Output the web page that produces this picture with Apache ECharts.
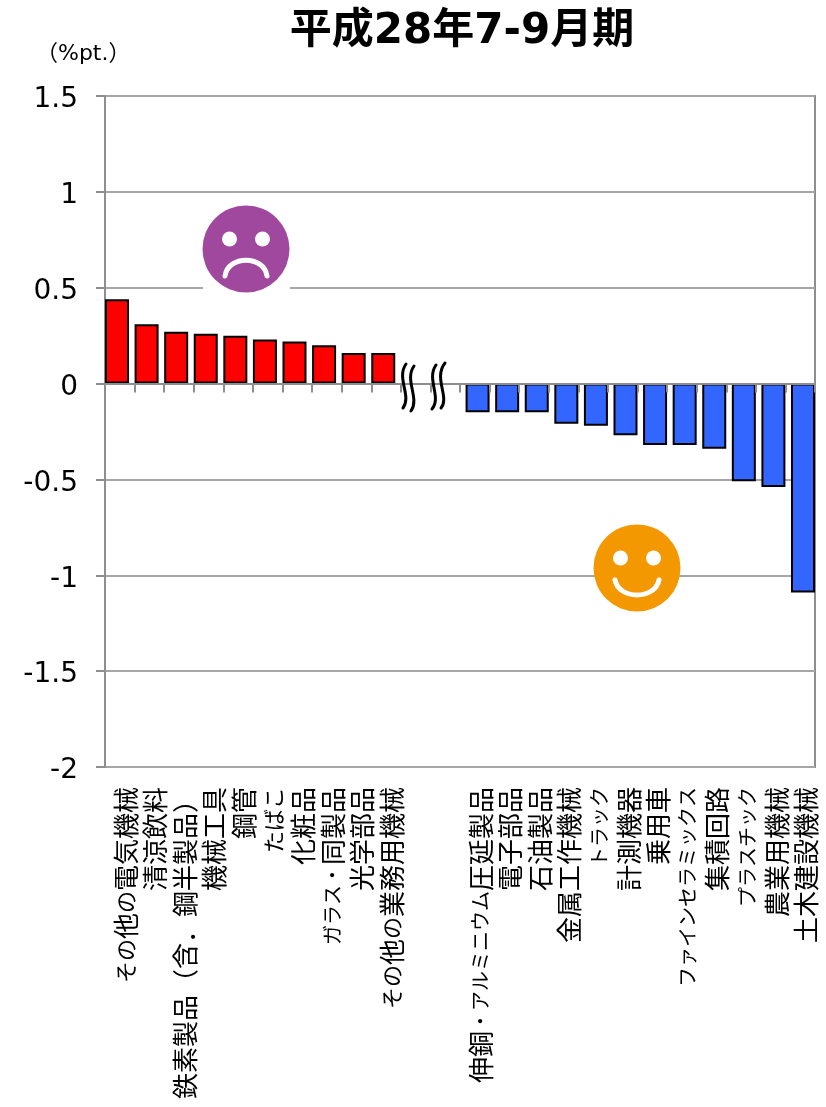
<!DOCTYPE html>
<html>
<head>
<meta charset="utf-8">
<style>html,body{margin:0;padding:0;background:#fff}#chart{width:826px;height:1107px}</style>
<script src="https://cdn.jsdelivr.net/npm/echarts@6/dist/echarts.min.js"></script>
</head>
<body>
<div id="chart"></div>
<script>
// 業種別の寄与度（%pt.）: 上昇業種と低下業種を波線で区切って並べる
const categories = [
  'その他の電気機械','清涼飲料','鉄素製品（含．鋼半製品）','機械工具','鋼管','たばこ','化粧品',
  'ガラス・同製品','光学部品','その他の業務用機械','','',
  '伸銅・アルミニウム圧延製品','電子部品','石油製品','金属工作機械','トラック','計測機器','乗用車',
  'ファインセラミックス','集積回路','プラスチック','農業用機械','土木建設機械'
];
const risingValues = [0.44,0.31,0.27,0.26,0.25,0.23,0.22,0.20,0.16,0.16,null,null,
  null,null,null,null,null,null,null,null,null,null,null,null];
const fallingValues = [null,null,null,null,null,null,null,null,null,null,null,null,
  -0.15,-0.15,-0.15,-0.21,-0.22,-0.27,-0.32,-0.32,-0.34,-0.51,-0.54,-1.09];

const GREY = '#8e8e8e';
const JP = '"Noto Sans CJK JP","DejaVu Sans",sans-serif';
const LATIN = '"DejaVu Sans","Noto Sans CJK JP",sans-serif';

// 漢字・ひらがな・カタカナで文字の大きさを変えて組む
function labelRuns(label) {
  const runs = label.match(/[\u3040-\u309f]+|[\u30a0-\u30ff]+|[^\u3040-\u30ff]+/g) || [];
  return runs.map((run) => {
    const code = run.charCodeAt(0);
    const style = code >= 0x3040 && code <= 0x309f ? 'h' : (code >= 0x30a0 && code <= 0x30ff ? 'k' : 'c');
    return '{' + style + '|' + run + '}';
  }).join('');
}

// 顔アイコン: 円・両目・口
function face(cx, cy, color, mouth) {
  const eye = (x) => ({type:'circle', shape:{cx:x, cy:cy-10, r:7.5}, style:{fill:'#fff'}, z:20});
  return [
    {type:'circle', shape:{cx, cy, r:43.5}, style:{fill:color}, z:20},
    eye(cx-16.5), eye(cx+16.5),
    {type:'bezierCurve', shape:mouth, style:{stroke:'#fff', lineWidth:5, fill:null, lineCap:'round'}, z:20}
  ];
}
// 省略を示す波線
function squiggle(x1, y1, cx1, cy1, cx2, cy2, x2, y2) {
  return {type:'bezierCurve',
    shape:{x1, y1, cpx1:cx1, cpy1:cy1, cpx2:cx2, cpy2:cy2, x2, y2},
    style:{stroke:'#000', lineWidth:3, fill:null, lineCap:'round'}, z:20};
}

const chart = echarts.init(document.getElementById('chart'), null, {renderer:'canvas'});
chart.setOption({
  animation:false,
  backgroundColor:'#fff',
  title:[
    {text:'平成28年7-9月期', left:457, top:6, textAlign:'center',
      textStyle:{fontFamily:LATIN, fontSize:42, fontWeight:'bold', color:'#000'}},
    {text:'（%pt.）', left:31, top:38,
      textStyle:{fontFamily:LATIN, fontSize:22, fontWeight:'normal', color:'#000'}}
  ],
  grid:{left:105, top:96, width:710, height:671, show:true, borderColor:GREY, borderWidth:2, backgroundColor:'transparent'},
  xAxis:[
    {type:'category', data:categories, position:'bottom', z:10,
      axisLine:{onZero:true, lineStyle:{color:GREY, width:2}},
      axisTick:{show:true, length:9, alignWithLabel:false, interval:0, lineStyle:{color:GREY, width:2}},
      axisLabel:{show:false}, splitLine:{show:false}},
    {type:'category', data:categories, position:'bottom', z:10,
      axisLine:{show:false, onZero:false}, axisTick:{show:false}, splitLine:{show:false},
      axisLabel:{show:true, interval:0, rotate:90, margin:20, color:'#000', hideOverlap:false,
        padding:[12,0,0,0],
        formatter:labelRuns,
        rich:{
          c:{fontFamily:JP, fontSize:26, color:'#000'},
          h:{fontFamily:JP, fontSize:22, color:'#000'},
          k:{fontFamily:JP, fontSize:20, color:'#000'}
        }}}
  ],
  yAxis:{type:'value', min:-2, max:1.5, interval:0.5,
    axisLine:{show:true, onZero:false, lineStyle:{color:GREY, width:2}},
    axisTick:{show:true, length:9, lineStyle:{color:GREY, width:2}},
    axisLabel:{margin:27, color:'#000', fontFamily:LATIN, fontSize:28, verticalAlign:'top', lineHeight:8},
    splitLine:{show:true, lineStyle:{color:'#a6a6a6', width:2}}},
  series:[
    {name:'上昇', type:'bar', data:risingValues, barWidth:24, barGap:'-76.75%',
      itemStyle:{color:'#ff0000', borderColor:'#000', borderWidth:2}},
    {name:'低下', type:'bar', data:fallingValues, barWidth:24, barGap:'-76.75%',
      itemStyle:{color:'#3366ff', borderColor:'#000', borderWidth:2}}
  ],
  graphic:[
    {type:'rect', shape:{x:203, y:205, width:87, height:90}, style:{fill:'#fff'}, z:19},
    ...face(246, 249, '#a0489e', {x1:225, y1:276, cpx1:228, cpy1:255, cpx2:264, cpy2:255, x2:267, y2:276}),
    ...face(637, 568, '#f39800', {x1:615, y1:580, cpx1:619, cpy1:600, cpx2:655, cpy2:600, x2:659, y2:580}),
    squiggle(406,364, 396,378, 412,396, 403,408),
    squiggle(414,366, 404,380, 420,398, 411,411),
    squiggle(436,365, 426,379, 442,397, 432,409),
    squiggle(445,363, 433,378, 450,397, 441,408)
  ]
});
</script>
</body>
</html>
